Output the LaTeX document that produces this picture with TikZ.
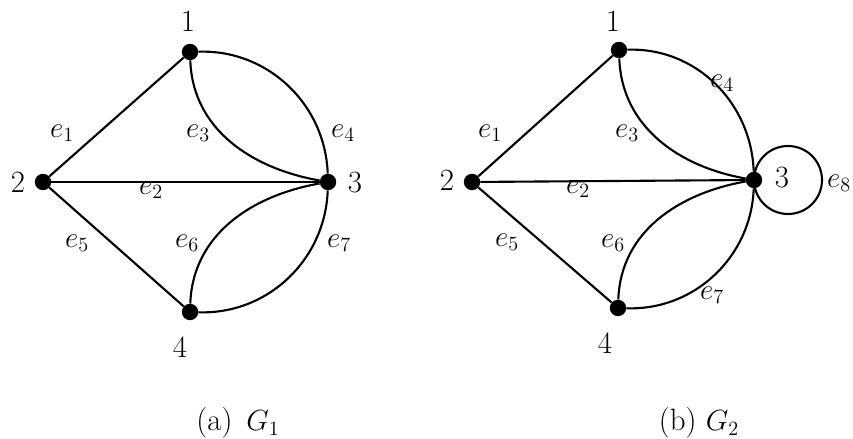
\documentclass[tikz,border=0pt]{standalone}
\begin{document}
\begin{tikzpicture}[
        x=0.025cm, y=0.025cm,
        vertex/.style={
            circle,
            fill=black,
            inner sep=0pt,
            minimum size=0.41cm
        },
        edge/.style={
            line width=1.5pt,
            draw=black
        },
        lbl/.style={
            inner sep=0pt,
            font=\fontsize{22}{25}\selectfont
        }
    ]

    \useasboundingbox (0,0) rectangle (853,439);

    % graph G1
    \node[vertex] (a1) at (190,387) {};
    \node[vertex] (a2) at (43,257)  {};
    \node[vertex] (a3) at (328,257) {};
    \node[vertex] (a4) at (190,127) {};

    \node[lbl] (a1l) at (188,418) {1};
    \node[lbl] (a2l) at (18,257)  {2};
    \node[lbl] (a3l) at (355,256) {3};
    \node[lbl] (a4l) at (180,92)  {4};

    \draw[edge] (a1) -- (a2);
    \draw[edge] (a2) -- (a3);
    \draw[edge] (a2) -- (a4);
    \draw[edge] (a1) to[out=-88, in=170] (a3);
    \draw[edge] (a1) to[out=2, in=92] (a3);
    \draw[edge] (a4) to[out=88, in=-170] (a3);
    \draw[edge] (a4) to[out=-2, in=-92] (a3);

    \node[lbl] (ae1) at (62,306)  {$e_1$};
    \node[lbl] (ae2) at (151,249) {$e_2$};
    \node[lbl] (ae3) at (198,306) {$e_3$};
    \node[lbl] (ae4) at (343,306) {$e_4$};
    \node[lbl] (ae5) at (77,196)  {$e_5$};
    \node[lbl] (ae6) at (187,196) {$e_6$};
    \node[lbl] (ae7) at (339,196) {$e_7$};

    \node[lbl] (acap) at (238,16) {(a)\hspace{0.45em}$G_1$};

    % graph G2
    \node[vertex] (b1) at (619,389) {};
    \node[vertex] (b2) at (472,257) {};
    \node[vertex] (b3) at (754,259) {};
    \node[vertex] (b4) at (618,131) {};

    \node[lbl] (b1l) at (613,418) {1};
    \node[lbl] (b2l) at (447,259) {2};
    \node[lbl] (b3l) at (782,261) {3};
    \node[lbl] (b4l) at (605,96)  {4};

    \draw[edge] (b1) -- (b2);
    \draw[edge] (b2) -- (b3);
    \draw[edge] (b2) -- (b4);
    \draw[edge] (b1) to[out=-88, in=170] (b3);
    \draw[edge] (b1) to[out=2, in=92] (b3);
    \draw[edge] (b4) to[out=88, in=-170] (b3);
    \draw[edge] (b4) to[out=-2, in=-92] (b3);
    \draw[edge] (b3.center) arc[start angle=180, end angle=-180, radius=34];

    \node[lbl] (be1) at (490,306) {$e_1$};
    \node[lbl] (be2) at (578,250) {$e_2$};
    \node[lbl] (be3) at (627,306) {$e_3$};
    \node[lbl] (be4) at (722,356) {$e_4$};
    \node[lbl] (be5) at (507,197) {$e_5$};
    \node[lbl] (be6) at (613,196) {$e_6$};
    \node[lbl] (be7) at (712,144) {$e_7$};
    \node[lbl] (be8) at (839,256) {$e_8$};

    \node[lbl] (bcap) at (699,16) {(b) $G_2$};

\end{tikzpicture}
\end{document}
